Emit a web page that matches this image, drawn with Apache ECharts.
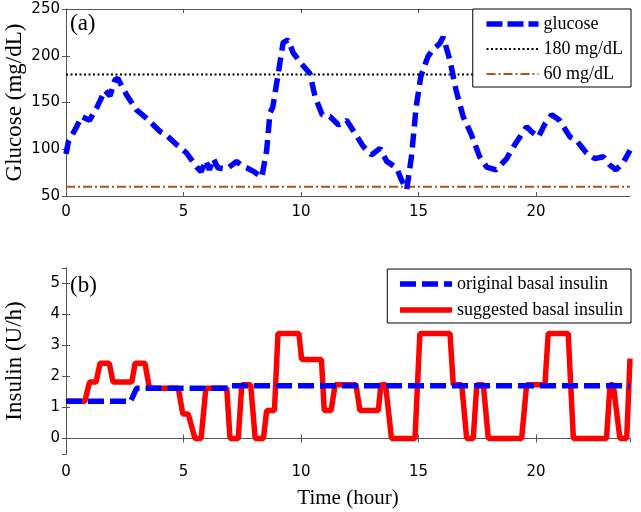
<!DOCTYPE html>
<html>
<head>
<meta charset="utf-8">
<script src="https://cdn.jsdelivr.net/npm/echarts@6/dist/echarts.min.js"></script>
<style>
  html, body { margin: 0; padding: 0; background: #fff; }
  #chart { width: 641px; height: 512px; }
</style>
</head>
<body>
<div id="chart"></div>
<script>
// glucose trace (hour, mg/dL)
const glucoseTime = [0, 0.1, 0.45, 0.67, 1.0, 1.3, 1.66, 1.87, 2.08, 2.2, 2.58, 3.0, 3.43, 4.0, 4.28, 4.7, 5.13, 5.56, 5.75, 5.95, 6.1, 6.27, 6.47, 6.84, 7.26, 7.5, 7.7, 8.0, 8.33, 8.54, 8.68, 8.8, 9.03, 9.24, 9.45, 9.67, 10.0, 10.38, 10.6, 10.9, 11.23, 11.6, 11.94, 12.3, 12.65, 13.0, 13.36, 13.65, 14.07, 14.28, 14.5, 14.7, 14.9, 15.1, 15.4, 15.6, 15.9, 16.05, 16.34, 16.6, 16.9, 17.26, 17.6, 17.9, 18.3, 18.75, 19.1, 19.6, 19.85, 20.1, 20.4, 20.67, 21.0, 21.45, 21.7, 22.15, 22.5, 22.86, 23.15, 23.4, 23.7, 24];
const glucoseMgdl = [95, 108, 124, 135, 131, 144, 163, 157, 174, 176, 158, 142, 133, 119, 115, 105, 96, 81, 76, 88, 78, 90, 80, 79, 87, 82, 80, 76, 70, 99, 139, 145, 181, 214, 217, 203, 192, 181, 156, 137, 135, 126, 131, 117, 103, 94, 101, 87, 80, 67, 57, 92, 145, 178, 199, 206, 213, 220, 195, 163, 135, 115, 92, 81, 78, 90, 105, 124, 118, 113, 128, 137, 131, 113, 110, 96, 90, 92, 83, 78, 85, 99];

const timeRange = [0, 24];
const hyperLimit = 180;
const hypoLimit = 60;

// basal rates (hour, U/h)
const originalTime = [0, 2.75, 3.0, 7.0, 7.05, 24];
const originalRate = [1.2, 1.2, 1.62, 1.62, 1.7, 1.7];

const suggestedTime = [0, 0.8, 1.0, 1.28, 1.45, 1.84, 2.0, 2.8, 2.94, 3.36, 3.55, 4.78, 4.97, 5.2, 5.49, 5.75, 5.95, 6.84, 6.98, 7.33, 7.48, 7.86, 8.05, 8.4, 8.54, 8.87, 9.02, 9.91, 10.03, 10.87, 10.99, 11.28, 11.45, 12.34, 12.51, 13.29, 13.4, 13.6, 13.85, 14.85, 15.06, 16.34, 16.48, 16.84, 17.05, 17.33, 17.48, 17.76, 17.97, 19.39, 19.6, 20.38, 20.52, 21.37, 21.59, 23.0, 23.15, 23.29, 23.57, 23.86, 24];
const suggestedRate = [1.2, 1.2, 1.82, 1.82, 2.43, 2.43, 1.82, 1.82, 2.43, 2.43, 1.62, 1.62, 0.79, 0.79, 0, 0, 1.62, 1.62, 0, 0, 1.73, 1.73, 0, 0, 0.9, 0.9, 3.39, 3.39, 2.55, 2.55, 0.9, 0.9, 1.73, 1.73, 0.9, 0.9, 1.73, 1.73, 0, 0, 3.39, 3.39, 1.73, 1.73, 0, 0, 1.73, 1.73, 0, 0, 1.73, 1.73, 3.39, 3.39, 0, 0, 1.73, 1.73, 0, 0, 2.58];

const pairs = (xs, ys) => xs.map((x, i) => [x, ys[i]]);

const serif = 'Liberation Serif';
const sans = 'DejaVu Sans';
const frame = '#555';

function xAxisPair(gridIndex, withName, labelMargin) {
    const base = {
        gridIndex: gridIndex,
        type: 'value',
        min: 0,
        max: 24,
        interval: 5,
        splitLine: { show: false },
        axisLine: { lineStyle: { color: frame, width: 1 } },
        axisTick: { inside: true, length: 4, lineStyle: { color: frame } }
    };
    const bottom = Object.assign({}, base, {
        position: 'bottom',
        axisLabel: { color: '#000', fontFamily: sans, fontSize: 15, margin: labelMargin, showMaxLabel: false }
    });
    if (withName) {
        Object.assign(bottom, {
            name: 'Time (hour)',
            nameLocation: 'middle',
            nameGap: 34,
            nameMoveOverlap: false,
            nameTextStyle: { color: '#000', fontFamily: serif, fontSize: 21 }
        });
    }
    const top = Object.assign({}, base, { position: 'top', axisLabel: { show: false } });
    return [bottom, top];
}

function yAxisPair(gridIndex, range, name) {
    const base = {
        gridIndex: gridIndex,
        type: 'value',
        min: range.min,
        max: range.max,
        splitLine: { show: false },
        axisLine: { show: true, lineStyle: { color: frame, width: 1 } },
        axisTick: { show: true, inside: true, length: 4, lineStyle: { color: frame } }
    };
    if (range.interval) base.interval = range.interval;
    if (range.splitNumber) base.splitNumber = range.splitNumber;
    const left = Object.assign({}, base, {
        position: 'left',
        name: name,
        nameLocation: 'middle',
        nameGap: 40,
        nameMoveOverlap: false,
        nameTextStyle: { color: '#000', fontFamily: serif, fontSize: 23 },
        axisLabel: {
            color: '#000', fontFamily: sans, fontSize: 15, margin: 6,
            showMinLabel: range.showEnds, showMaxLabel: range.showEnds
        }
    });
    const right = Object.assign({}, base, { position: 'right', axisLabel: { show: false } });
    return [left, right];
}

const legendBase = {
    orient: 'vertical',
    right: 10,
    itemWidth: 52,
    itemHeight: 18,
    borderColor: '#000',
    borderWidth: 1,
    borderRadius: 0,
    backgroundColor: '#fff',
    itemStyle: { opacity: 0 },
    textStyle: { color: '#000', fontFamily: serif, fontSize: 18 }
};

const chart = echarts.init(document.getElementById('chart'));

const option = {
    backgroundColor: '#fff',
    animation: false,
    grid: [
        { left: 66, top: 9, right: 11, height: 187, containLabel: false, outerBoundsMode: 'none' },
        { left: 66, top: 268, right: 11, height: 186, containLabel: false, outerBoundsMode: 'none' }
    ],
    xAxis: xAxisPair(0, false, 9).concat(xAxisPair(1, true, 11)),
    yAxis: yAxisPair(0, { min: 50, max: 250, interval: 50, showEnds: true }, 'Glucose (mg/dL)')
        .concat(yAxisPair(1, { min: -0.5, max: 5.5, splitNumber: 6, showEnds: false }, 'Insulin (U/h)')),
    legend: [
        Object.assign({}, legendBase, {
            top: 9,
            padding: [6, 8, 4, 11],
            itemGap: 7,
            data: [
                { name: 'glucose', lineStyle: { width: 5.5, type: [16, 5], color: '#0000ff' } },
                { name: '180 mg/dL', lineStyle: { width: 2, type: [2, 2.5], color: '#000' } },
                { name: '60 mg/dL', lineStyle: { width: 2, type: [9, 3, 2, 3], color: '#b0501c' } }
            ]
        }),
        Object.assign({}, legendBase, {
            top: 269,
            padding: [6, 8, 4, 10],
            itemGap: 8,
            data: [
                { name: 'original basal insulin', lineStyle: { width: 5.5, type: [16, 6], color: '#0000ff' } },
                { name: 'suggested basal insulin', lineStyle: { width: 5.5, type: 'solid', color: '#ff0000' } }
            ]
        })
    ],
    graphic: [
        { type: 'text', left: 70, top: 12, style: { text: '(a)', font: '23px "Liberation Serif"', fill: '#000' } },
        { type: 'text', left: 70, top: 274, style: { text: '(b)', font: '23px "Liberation Serif"', fill: '#000' } }
    ],
    series: [
        {
            name: '180 mg/dL', type: 'line', xAxisIndex: 0, yAxisIndex: 0,
            symbol: 'none', silent: true, z: 2,
            lineStyle: { color: '#000', width: 2, type: [2, 2.5] },
            data: pairs(timeRange, [hyperLimit, hyperLimit])
        },
        {
            name: '60 mg/dL', type: 'line', xAxisIndex: 0, yAxisIndex: 0,
            symbol: 'none', silent: true, z: 2,
            lineStyle: { color: '#b0501c', width: 2, type: [9, 3, 2, 3] },
            data: pairs(timeRange, [hypoLimit, hypoLimit])
        },
        {
            name: 'glucose', type: 'line', xAxisIndex: 0, yAxisIndex: 0,
            symbol: 'none', z: 3,
            lineStyle: { color: '#0000ff', width: 5.5, type: [14, 7] },
            data: pairs(glucoseTime, glucoseMgdl)
        },
        {
            name: 'suggested basal insulin', type: 'line', xAxisIndex: 2, yAxisIndex: 2,
            symbol: 'none', z: 2,
            lineStyle: { color: '#ff0000', width: 5.5 },
            data: pairs(suggestedTime, suggestedRate)
        },
        {
            name: 'original basal insulin', type: 'line', xAxisIndex: 2, yAxisIndex: 2,
            symbol: 'none', z: 3,
            lineStyle: { color: '#0000ff', width: 5.5, type: [16, 6] },
            data: pairs(originalTime, originalRate)
        }
    ]
};

chart.setOption(option);
</script>
</body>
</html>
